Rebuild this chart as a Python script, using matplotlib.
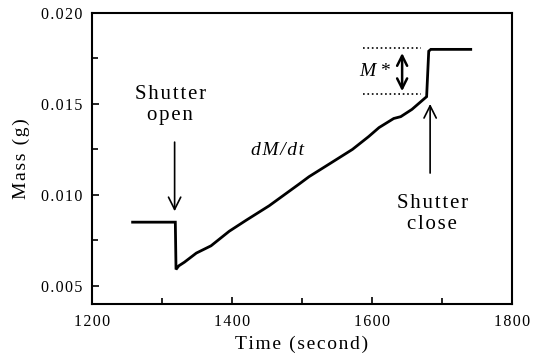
import matplotlib
matplotlib.use("Agg")
import matplotlib.pyplot as plt
from matplotlib.ticker import MultipleLocator

plt.rcParams['font.family'] = ['Liberation Serif', 'DejaVu Serif']

# Mass record of the sample during the shutter cycle
time_s = [1258, 1319, 1320, 1324, 1332, 1349, 1370, 1396, 1420, 1453, 1496,
          1510, 1539, 1572, 1595, 1610, 1631, 1641, 1657, 1678, 1681, 1684, 1741]
mass_g = [0.0085, 0.0085, 0.0059, 0.0061, 0.0063, 0.0068, 0.0072, 0.0080,
          0.0086, 0.0094, 0.0106, 0.0110, 0.0117, 0.0125, 0.0132, 0.0137,
          0.0142, 0.0143, 0.0147, 0.0154, 0.0179, 0.0180, 0.0180]

x_ticks = [1200, 1400, 1600, 1800]
x_tick_labels = ["1200", "1400", "1600", "1800"]
y_ticks = [0.005, 0.010, 0.015, 0.020]
y_tick_labels = ["0.005", "0.010", "0.015", "0.020"]

# M* step levels and shutter event times
m_star_top = 0.0181
m_star_bottom = 0.01555
t_open = 1318
t_close = 1683


def spaced(s):
    """Open up the letter spacing with hair spaces."""
    return "\u200a".join(s)


fig = plt.figure(figsize=(5.4, 3.58), dpi=100)
ax = fig.add_axes([0.1704, 0.1508, 0.7778, 0.8129])

ax.plot(time_s, mass_g, color='black', lw=2.0, solid_joinstyle='miter')

ax.set_xlim(1200, 1800)
ax.set_ylim(0.004, 0.020)
ax.set_xticks(x_ticks)
ax.set_xticklabels([spaced(t) for t in x_tick_labels])
ax.set_yticks(y_ticks)
ax.set_yticklabels([spaced(t) for t in y_tick_labels])
ax.xaxis.set_minor_locator(MultipleLocator(100))
ax.yaxis.set_minor_locator(MultipleLocator(0.0025))
ax.tick_params(which='both', direction='in', width=1.2, labelsize=11.5, pad=7)
ax.tick_params(which='major', length=5)
ax.tick_params(which='minor', length=4)
for s in ax.spines.values():
    s.set_linewidth(1.5)

ax.set_xlabel(spaced("Time (second)"), fontsize=14, labelpad=4)
ax.set_ylabel(spaced("Mass (g)"), fontsize=14, labelpad=8)

# Dotted guide lines bounding M*
ax.plot([1587, 1670], [m_star_top, m_star_top], color='black', ls=':', lw=1.2)
ax.plot([1587, 1670], [m_star_bottom, m_star_bottom], color='black', ls=':', lw=1.2)
ax.annotate("", xy=(1643, 0.0178), xytext=(1643, 0.0157),
            arrowprops=dict(arrowstyle='<->', lw=1.8, color='black',
                            mutation_scale=18, shrinkA=0, shrinkB=0))
ax.text(1604, 0.0168, "M *", fontsize=14, style='italic', ha='center', va='center')

ax.text(1465, 0.01242, spaced("dM/dt"), fontsize=14, style='italic',
        ha='center', va='center')

# Shutter events
ax.text(1312, 0.01495, spaced("Shutter") + "\n" + spaced("open"), fontsize=15,
        ha='center', va='center', linespacing=1.15)
ax.annotate("", xy=(t_open, 0.0091), xytext=(t_open, 0.0129),
            arrowprops=dict(arrowstyle='->', lw=1.2, color='black',
                            mutation_scale=22, shrinkA=0, shrinkB=0))

ax.text(1686, 0.00893, spaced("Shutter") + "\n" + spaced("close"), fontsize=15,
        ha='center', va='center', linespacing=1.15)
ax.annotate("", xy=(t_close, 0.0150), xytext=(t_close, 0.0112),
            arrowprops=dict(arrowstyle='->', lw=1.2, color='black',
                            mutation_scale=22, shrinkA=0, shrinkB=0))

fig.savefig("out.png", dpi=100)
